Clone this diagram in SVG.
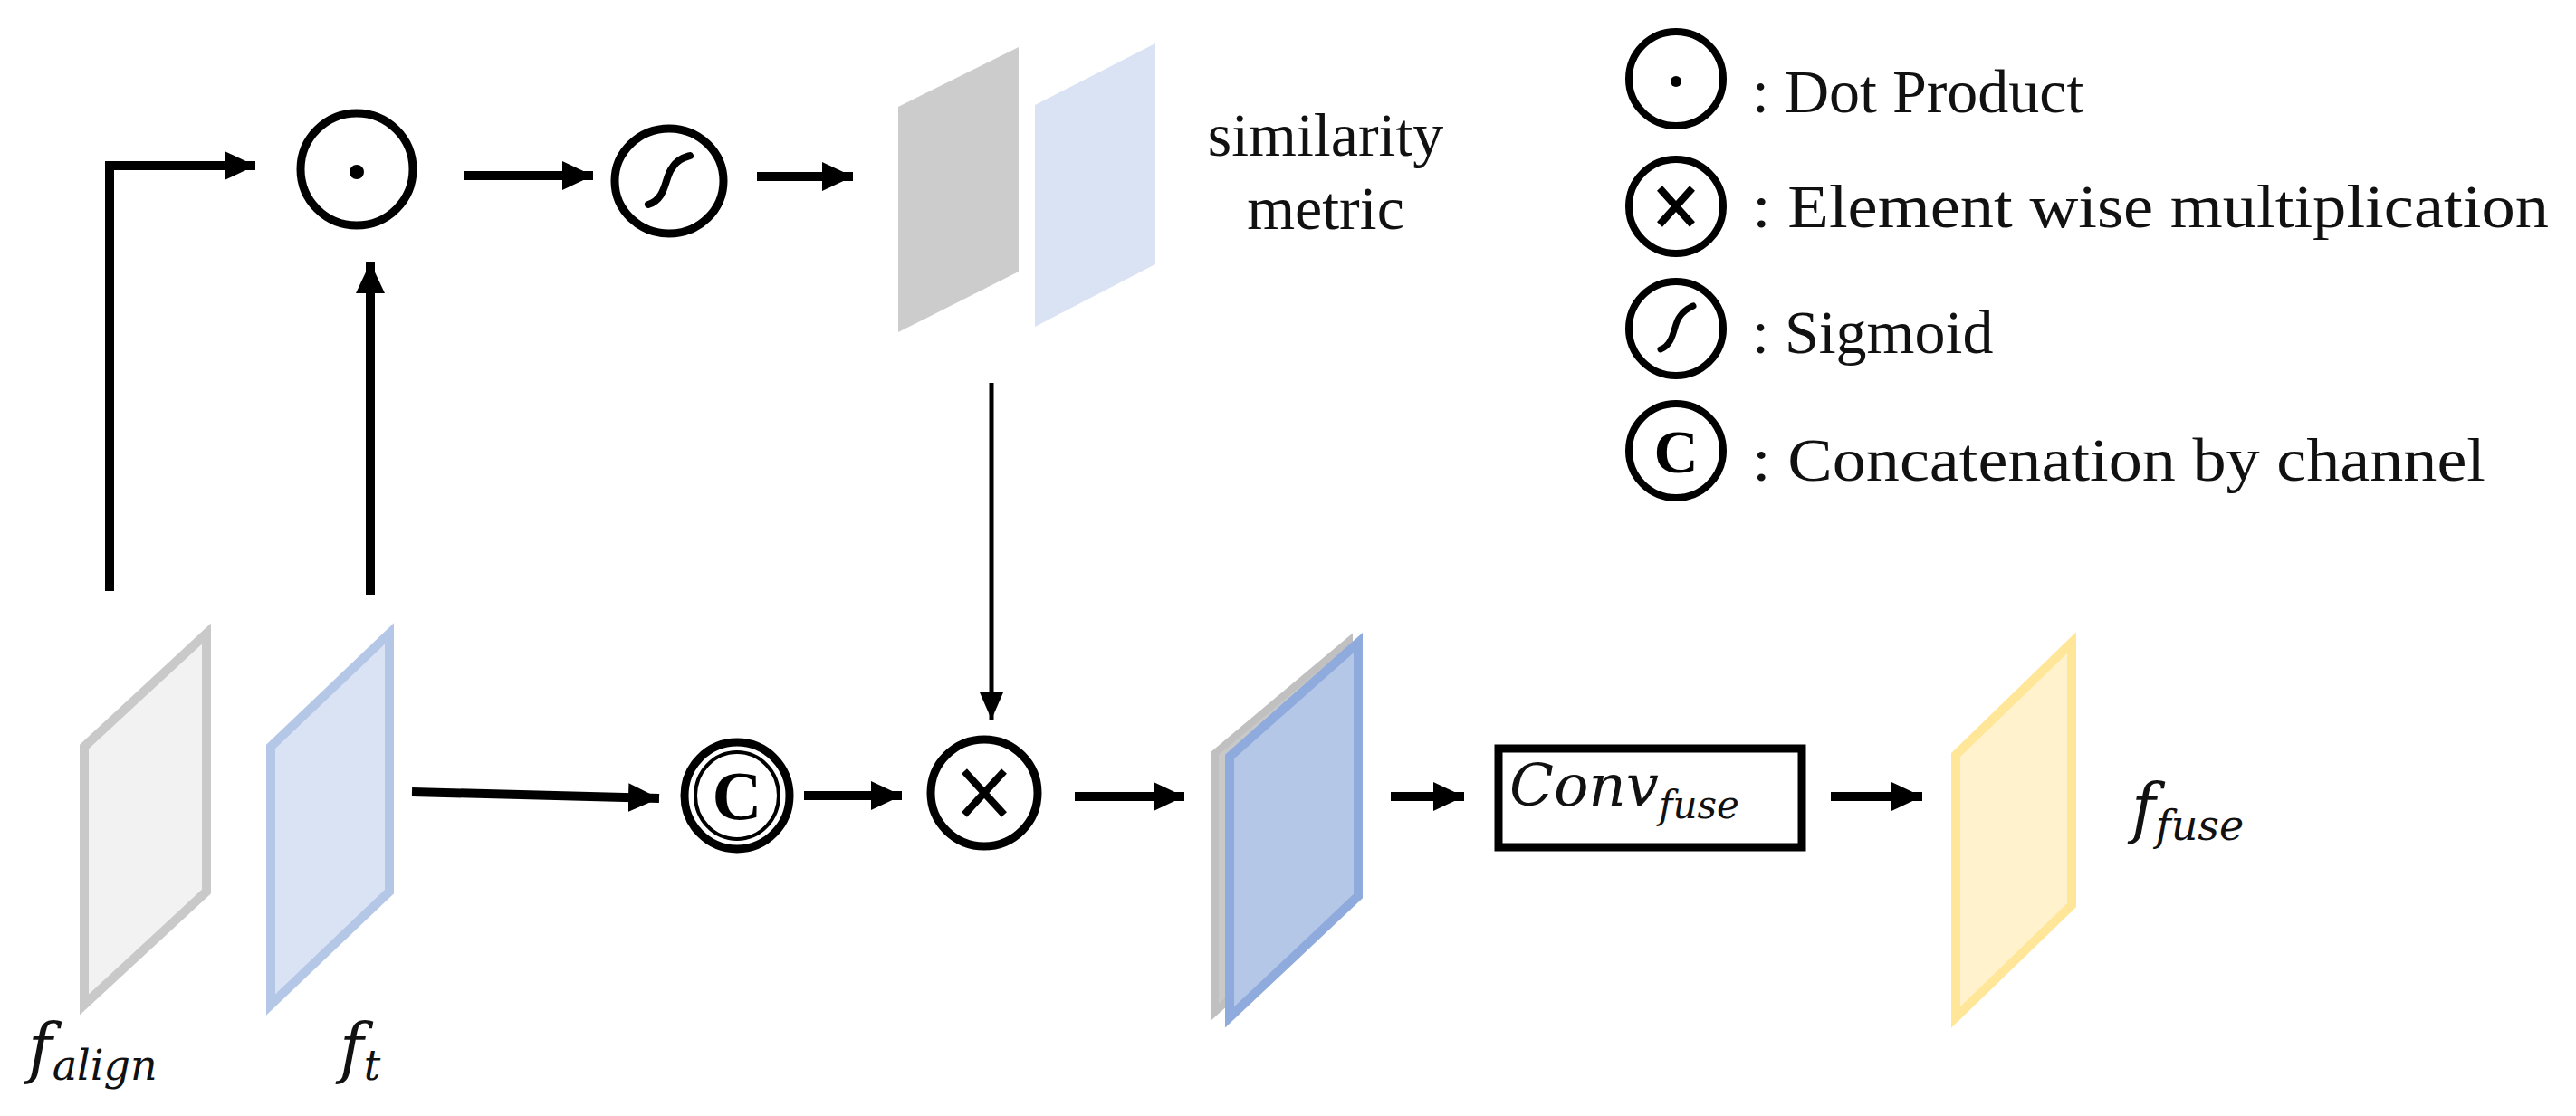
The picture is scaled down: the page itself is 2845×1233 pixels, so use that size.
<svg xmlns="http://www.w3.org/2000/svg" width="2845" height="1233" viewBox="0 0 2845 1233">
<style>
.op{fill:none;stroke:#000;stroke-width:9}
.lg{fill:none;stroke:#000;stroke-width:8}
.cn{fill:none;stroke:#000;stroke-width:10}
.cn2{fill:none;stroke:#000;stroke-width:5}
.t{font-family:"Liberation Serif",serif;font-size:68px;fill:#111}
.m{font-family:"DejaVu Serif","Liberation Serif",serif;font-style:italic;fill:#111}
</style>
<defs>
<marker id="ah" markerUnits="userSpaceOnUse" markerWidth="40" markerHeight="40" refX="34" refY="16" orient="auto">
<path d="M0,0 L34,16 L0,32 Z" fill="#000"/>
</marker>
<marker id="ah2" markerUnits="userSpaceOnUse" markerWidth="40" markerHeight="40" refX="30" refY="13" orient="auto">
<path d="M0,0 L30,13 L0,26 Z" fill="#000"/>
</marker>
</defs>
<g id="connectors">
<path class="cn" d="M121,653 V183 H282" marker-end="url(#ah)"/>
<path class="cn" d="M409,657 V290" marker-end="url(#ah)"/>
<path class="cn" d="M512,194 H655" marker-end="url(#ah)"/>
<path class="cn" d="M836,195 H942" marker-end="url(#ah)"/>
<path class="cn2" d="M1095,423 V795" marker-end="url(#ah2)"/>
<path class="cn" d="M455,875 L728,882" marker-end="url(#ah)"/>
<path class="cn" d="M888,879 H996" marker-end="url(#ah)"/>
<path class="cn" d="M1187,880 H1308" marker-end="url(#ah)"/>
<path class="cn" d="M1536,880 H1617" marker-end="url(#ah)"/>
<path class="cn" d="M2022,880 H2123" marker-end="url(#ah)"/>
</g>
<g id="f_align">
<polygon points="228,700 228,985 93,1110 93,825" fill="#f2f2f2" stroke="#c9c9c9" stroke-width="10"/>
<text class="m" x="31" y="1183" font-size="72">f<tspan font-size="46" dy="10">align</tspan></text>
</g>
<g id="f_t">
<polygon points="430,700 430,985 299,1110 299,825" fill="#dae3f3" stroke="#b4c7e7" stroke-width="10"/>
<text class="m" x="375" y="1183" font-size="72">f<tspan font-size="46" dy="10">t</tspan></text>
</g>
<g id="dot">
<ellipse class="op" cx="394" cy="187" rx="62" ry="62"/>
<circle cx="394" cy="190" r="8" fill="#000"/>
</g>
<g id="sigmoid">
<ellipse class="op" cx="739" cy="200" rx="60" ry="58"/>
<path d="M716,226 C736,220 734,196 742,186 C748,176 756,174 762,172" fill="none" stroke="#000" stroke-width="8" stroke-linecap="round"/>
</g>
<g id="similarity">
<polygon points="1125,52 1125,300 992,367 992,118" fill="#cccccc"/>
<polygon points="1276,48 1276,292 1143,361 1143,116" fill="#dae3f3"/>
<text class="t" x="1464" y="172" text-anchor="middle" font-size="70">similarity</text>
<text class="t" x="1464" y="253" text-anchor="middle" font-size="70">metric</text>
</g>
<g id="concat">
<ellipse class="op" cx="814" cy="879" rx="58" ry="59"/>
<ellipse fill="none" stroke="#000" stroke-width="4" cx="814" cy="879" rx="46" ry="48"/>
<text x="814" y="905" text-anchor="middle" font-family="Liberation Serif,serif" font-weight="bold" font-size="76">C</text>
</g>
<g id="mult">
<ellipse class="op" cx="1087" cy="876" rx="59" ry="59"/>
<path d="M1065,852 L1109,900 M1109,852 L1065,900" stroke="#000" stroke-width="8"/>
</g>
<g id="fused_stack">
<polygon points="1490,708 1490,985 1342,1118 1342,832" fill="#c9c9c9" stroke="#c0c0c0" stroke-width="8"/>
<polygon points="1500,710 1500,990 1358,1124 1358,836" fill="#b4c7e7" stroke="#8faadc" stroke-width="10"/>
</g>
<g id="conv">
<rect x="1655" y="827" width="335" height="109" fill="#fff" stroke="#000" stroke-width="9"/>
<text class="m" x="1667" y="890" font-size="64">Conv<tspan font-size="42" dy="14">fuse</tspan></text>
</g>
<g id="f_fuse">
<polygon points="2288,710 2288,1000 2160,1124 2160,834" fill="#fff2cc" stroke="#ffe699" stroke-width="10"/>
<text class="m" x="2354" y="918" font-size="72">f<tspan font-size="46" dy="10">fuse</tspan></text>
</g>
<g id="legend">
<ellipse class="lg" cx="1851" cy="87" rx="52" ry="52"/>
<circle cx="1851" cy="90" r="6" fill="#000"/>
<text class="t" x="1935" y="124">: Dot Product</text>
<ellipse class="lg" cx="1851" cy="228" rx="52" ry="52"/>
<path d="M1833,208 L1869,248 M1869,208 L1833,248" stroke="#000" stroke-width="8"/>
<text class="t" x="1935" y="251" textLength="880" lengthAdjust="spacingAndGlyphs">: Element wise multiplication</text>
<ellipse class="lg" cx="1851" cy="363" rx="52" ry="52"/>
<path d="M1834,386 C1850,380 1848,358 1855,350 C1860,342 1866,340 1870,338" fill="none" stroke="#000" stroke-width="7" stroke-linecap="round"/>
<text class="t" x="1935" y="390">: Sigmoid</text>
<ellipse class="lg" cx="1851" cy="498" rx="52" ry="52"/>
<text x="1851" y="522" text-anchor="middle" font-family="Liberation Serif,serif" font-weight="bold" font-size="68">C</text>
<text class="t" x="1935" y="531" textLength="810" lengthAdjust="spacingAndGlyphs">: Concatenation by channel</text>
</g>
</svg>
